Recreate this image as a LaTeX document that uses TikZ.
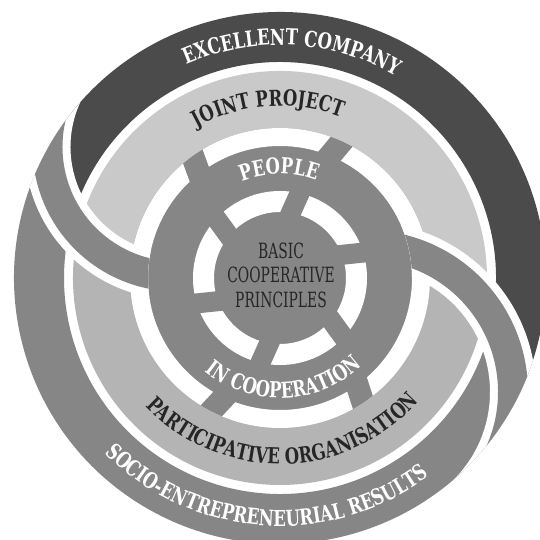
\documentclass[tikz,border=0pt]{standalone}
\usepackage{fontspec}
\usetikzlibrary{decorations.text}
\newfontfamily\slab[FakeStretch=0.75]{DejaVu Serif}
\newfontfamily\slabnarrow[FakeStretch=0.66]{DejaVu Serif}
\newcommand\bandfont{\slab\bfseries\fontsize{22}{26}\selectfont}
\newcommand\corefont{\slabnarrow\fontsize{21}{24.5}\selectfont}
\definecolor{darkband}{RGB}{75,75,75}
\definecolor{midgray}{RGB}{134,134,134}
\definecolor{lightjoint}{RGB}{201,201,201}
\definecolor{lightpart}{RGB}{180,180,180}
\definecolor{inkgray}{RGB}{38,38,38}
\begin{document}
\begin{tikzpicture}[x=1pt,y=1pt,
		armedge/.style={white,line width=46pt},
		armfill/.style={midgray,line width=30pt},
		ribbon/.style={decorate,decoration={text along path,text align=center,#1}}]
	\useasboundingbox (0,0) rectangle (539,540);
	\begin{scope}[shift={(280,262)}]
		% outer bands
		\fill[darkband] (150.9:266) arc[start angle=150.9,end angle=-29.3,radius=266] -- (-18.7:241) -- (-10.4:216)
			arc[start angle=-10.4,end angle=165,radius=216] -- (158.9:241) -- cycle;
		\fill[midgray] (150.9:266) arc[start angle=150.9,end angle=330.7,radius=266] -- (-18.7:241) -- (-10.4:216)
			arc[start angle=349.6,end angle=165,radius=216] -- (158.9:241) -- cycle;
		% light bands
		\fill[lightjoint] (166.9:207) arc[start angle=166.9,end angle=-7.7,radius=207] -- (0.2:178) -- (7.2:150)
			arc[start angle=7.2,end angle=176.1,radius=150] -- (172.2:178) -- cycle;
		\fill[lightpart] (166.9:207) arc[start angle=166.9,end angle=352.3,radius=207] -- (0.2:178) -- (7.2:150)
			arc[start angle=367.2,end angle=176.1,radius=150] -- (172.2:178) -- cycle;
		% core with dashed rings
		\fill[midgray] (0,0) circle (150);
		\draw[white,line width=18pt] (0,0) circle (141);
		\draw[white,line width=21pt] (0,0) circle (76.5);
		\begin{scope}
			\clip (0,0) circle (150);
			\foreach \a in {67,127,244,305}
				\draw[midgray,line width=23pt] ({\a+2}:124) -- ({\a-2}:156);
		\end{scope}
		\foreach \a in {19,79,139,199,259,319}
			\draw[midgray,line width=20pt] ({\a+2.5}:62) -- ({\a-2.5}:91);
		% swirl arms
		\begin{scope}[even odd rule]
			\clip (0,0) circle (266) (0,0) circle (132);
			\draw[armedge] (-103,131) ++(145:129.5) arc[start angle=145,end angle=290,radius=129.5];
			\draw[armfill] (-103,131) ++(145:129.5) arc[start angle=145,end angle=290,radius=129.5];
			\draw[armedge] (86,-114) ++(-50:147) arc[start angle=-50,end angle=110,radius=147];
			\draw[armfill] (86,-114) ++(-50:147) arc[start angle=-50,end angle=110,radius=147];
		\end{scope}
		% labels
		\path[ribbon={text color=white,text={|\bandfont|EXCELLENT COMPANY}}] (147:233) arc[start angle=147,end angle=27,radius=233];
		\path[ribbon={text color=inkgray,text={|\bandfont|JOINT PROJECT}}] (154:172) arc[start angle=154,end angle=34,radius=172];
		\path[ribbon={text color=white,text={|\bandfont|PEOPLE}}] (150.5:104) arc[start angle=150.5,end angle=30.5,radius=104];
		\path[ribbon={text color=white,text={|\bandfont|IN COOPERATION}}] (212:120) arc[start angle=212,end angle=332,radius=120];
		\path[ribbon={text color=inkgray,text={|\bandfont|PARTICIPATIVE ORGANISATION}}] (211:186) arc[start angle=211,end angle=331,radius=186];
		\path[ribbon={text color=white,text={|\bandfont|SOCIO-ENTREPRENEURIAL RESULTS}}] (206:248) arc[start angle=206,end angle=326,radius=248];
		\node[font=\corefont,text=inkgray,align=center] (principles) at (1,3) {BASIC\\COOPERATIVE\\PRINCIPLES};
	\end{scope}
\end{tikzpicture}
\end{document}
